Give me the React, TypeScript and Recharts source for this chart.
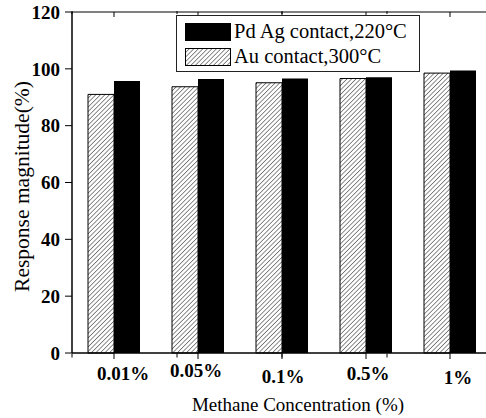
import { BarChart, Bar, XAxis, YAxis, Label } from "recharts";

// methane concentration steps
const categories = ["0.01%", "0.05%", "0.1%", "0.5%", "1%"];
// response magnitude (%)
const auContact = [91.0, 93.7, 95.1, 96.6, 98.5];
const pdAgContact = [95.7, 96.4, 96.6, 97.0, 99.4];

const yTicks = [0, 20, 40, 60, 80, 100, 120];
const yMinorTicks = [10, 30, 50, 70, 90, 110];
const bandEdges = [0, 1, 2, 3, 4, 5];

// the original tick labels sit a little off their ticks
const labelDx = [9, -2, 1, 2, 8];
const labelDy = [0, -3, 3, 0, 4];

const SERIES = [
  { key: "pdag", name: "Pd Ag contact,220°C", fill: "#000" },
  { key: "au", name: "Au contact,300°C", fill: "url(#hatch)" },
];

const data = categories.map((c, i) => ({
  name: c,
  au: auContact[i],
  pdag: pdAgContact[i],
}));

const FONT = "Liberation Serif";

function LegendBox() {
  return (
    <div
      style={{
        position: "absolute",
        left: 176,
        top: 15,
        border: "1px solid #222",
        background: "#fff",
        padding: "3px 12px 2px 8px",
        fontFamily: FONT,
        fontSize: 20.5,
        color: "#000",
        lineHeight: "25px",
      }}
    >
      {SERIES.map((s) => (
        <div key={s.key} style={{ display: "flex", alignItems: "center" }}>
          <svg width={46} height={18} style={{ marginRight: 3 }}>
            <rect x={0.5} y={0.5} width={45} height={17} fill={s.fill} stroke="#000" />
          </svg>
          <span>{s.name}</span>
        </div>
      ))}
    </div>
  );
}

function YTitle({ viewBox }: any) {
  const cx = 22;
  const cy = viewBox.y + viewBox.height / 2 + 4;
  return (
    <text
      x={cx}
      y={cy}
      transform={`rotate(-90, ${cx}, ${cy})`}
      textAnchor="middle"
      dominantBaseline="central"
      fontFamily={FONT}
      fontSize={21.5}
      fill="#000"
    >
      Response magnitude(%)
    </text>
  );
}

function XTick({ x, y, payload, index }: any) {
  return (
    <text
      x={x + (labelDx[index] || 0)}
      y={y + (labelDy[index] || 0)}
      dy="0.71em"
      textAnchor="middle"
      fontFamily={FONT}
      fontSize={19}
      fontWeight="bold"
      fill="#000"
    >
      {payload.value}
    </text>
  );
}

export default function App() {
  const empty = () => "";
  return (
    <div
      style={{
        position: "fixed",
        left: 0,
        top: 0,
        width: 486,
        height: 418,
        overflow: "hidden",
        background: "#fff",
      }}
    >
      <BarChart
        width={500}
        height={418}
        data={data}
        margin={{ top: 10, right: 8, left: 71, bottom: 64 }}
        barGap={0}
        barCategoryGap={16}
      >
        <defs>
          <pattern
            id="hatch"
            width={3.2}
            height={3.2}
            patternUnits="userSpaceOnUse"
            patternTransform="rotate(45)"
          >
            <rect width={3.2} height={3.2} fill="#fff" />
            <line x1={0} y1={0} x2={0} y2={3.2} stroke="#000" strokeWidth={0.9} />
          </pattern>
        </defs>
        <XAxis
          dataKey="name"
          height={0.5}
          tickSize={6}
          tickMargin={8}
          axisLine={{ stroke: "#000", strokeWidth: 1.5 }}
          tickLine={{ stroke: "#000" }}
          tick={<XTick />}
          interval={0}
        >
          <Label
            value="Methane Concentration (%)"
            position="bottom"
            offset={44}
            dx={16}
            style={{ fill: "#000", fontFamily: FONT, fontSize: 19 }}
          />
        </XAxis>
        <XAxis
          xAxisId="minor"
          type="number"
          domain={[0, 5]}
          ticks={bandEdges}
          height={0.5}
          axisLine={false}
          tickSize={4}
          tickFormatter={empty}
          tickLine={{ stroke: "#000" }}
        />
        <XAxis
          xAxisId="top"
          dataKey="name"
          orientation="top"
          height={1}
          tickSize={-5}
          tickFormatter={empty}
          axisLine={{ stroke: "#000" }}
          tickLine={{ stroke: "#000" }}
        />
        <XAxis
          xAxisId="topMinor"
          type="number"
          domain={[0, 5]}
          ticks={bandEdges}
          orientation="top"
          height={1}
          axisLine={false}
          tickSize={-3}
          tickFormatter={empty}
          tickLine={{ stroke: "#000" }}
        />
        <YAxis
          width={0.5}
          domain={[0, 120]}
          ticks={yTicks}
          tickSize={7}
          tickMargin={5}
          axisLine={{ stroke: "#000", strokeWidth: 1.5 }}
          tickLine={{ stroke: "#000" }}
          tick={{ fill: "#000", fontFamily: FONT, fontSize: 19, fontWeight: "bold" }}
          label={<YTitle />}
        />
        <YAxis
          yAxisId="minor"
          width={0.5}
          domain={[0, 120]}
          ticks={yMinorTicks}
          tickSize={4}
          axisLine={false}
          tickFormatter={empty}
          tickLine={{ stroke: "#000" }}
          orientation="left"
        />
        <Bar
          dataKey="au"
          name={SERIES[1].name}
          fill="url(#hatch)"
          stroke="#000"
          strokeWidth={1}
          isAnimationActive={false}
        />
        <Bar
          dataKey="pdag"
          name={SERIES[0].name}
          fill="#000"
          isAnimationActive={false}
        />
      </BarChart>
      <LegendBox />
    </div>
  );
}
